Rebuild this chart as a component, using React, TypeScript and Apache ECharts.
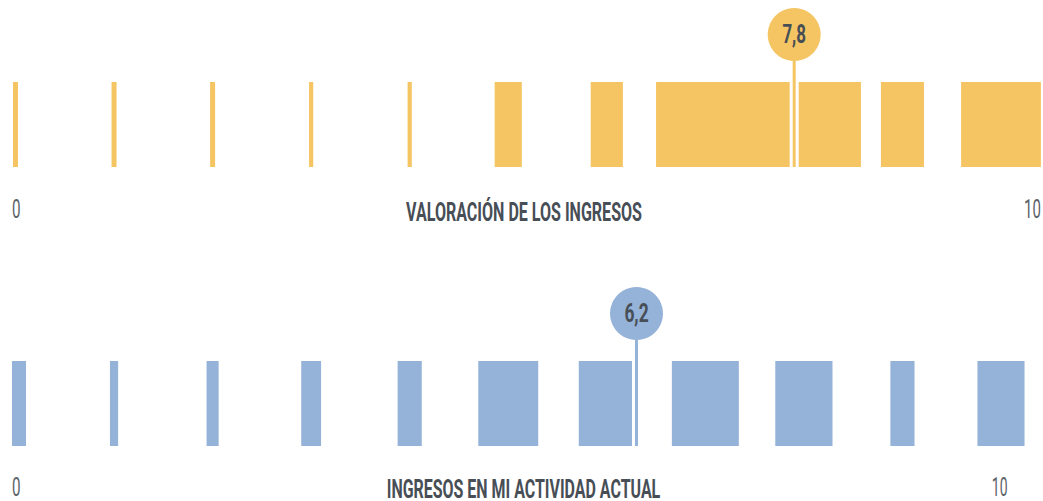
import React, { useEffect, useRef } from "react";
import * as echarts from "echarts";

// ---- data ----
const scores = [0, 1, 2, 3, 4, 5, 6, 7, 8, 9, 10];
// share of answers per score (%)
const valoracionPct = [1.2, 1.2, 1.2, 1.0, 1.0, 6.5, 7.7, 23.6, 27.3, 10.3, 19.1];
const actividadPct = [3.6, 2.1, 3.1, 5.1, 6.2, 15.4, 14.4, 17.2, 14.7, 6.2, 12.1];
const averages = [7.8, 6.2];
const titles = ["VALORACIÓN DE LOS INGRESOS", "INGRESOS EN MI ACTIVIDAD ACTUAL"];
const tickLabels = ["0", "10"];

// ---- styles ----
const YELLOW = "#F4C562";
const BLUE = "#95B2D9";
const DARK = "#474e56";
const GREY = "#5c6269";
const FONT = "Roboto, 'Open Sans', sans-serif";
// width (axis units) that a full 100% row would occupy
const rowScale = [4.24 / 100, 3.95 / 100];

function inkWidth(text: string, font: string): number {
  const c = document.createElement("canvas").getContext("2d");
  if (!c) return text.length * 10;
  c.font = font;
  const m = c.measureText(text);
  const w = (m.actualBoundingBoxLeft || 0) + (m.actualBoundingBoxRight || 0);
  return w > 0 ? w : m.width;
}

function fitText(text: string, weight: string, size: number, cx: number, cy: number, target: number, fill: string) {
  const font = `${weight} ${size}px ${FONT}`;
  const sx = target / inkWidth(text, `${weight} ${size}px Roboto`);
  return {
    type: "text",
    x: cx,
    y: cy,
    scaleX: sx,
    silent: true,
    style: {
      text,
      x: 0,
      y: 0,
      font,
      fill,
      align: "center",
      verticalAlign: "middle",
      textAlign: "center",
      textVerticalAlign: "middle",
    },
  };
}

function barSeries(idx: number, pct: number[], color: string) {
  return {
    type: "custom",
    xAxisIndex: idx,
    yAxisIndex: idx,
    clip: false,
    data: scores.map((s, i) => [s, pct[i]]),
    renderItem: (_p: any, api: any) => {
      const top = api.coord([api.value(0), 1]);
      const bot = api.coord([api.value(0), 0]);
      const w = api.size([api.value(1) * rowScale[idx], 0])[0];
      const x0 = Math.max(top[0] - w / 2, 12);
      return {
        type: "rect",
        shape: { x: x0, y: top[1], width: w, height: bot[1] - top[1] },
        style: { fill: color },
      };
    },
  };
}

function markerSeries(idx: number, value: number, color: string) {
  return {
    type: "custom",
    xAxisIndex: idx,
    yAxisIndex: idx,
    clip: false,
    z: 5,
    data: [[value, 1]],
    renderItem: (_p: any, api: any) => {
      const v = api.value(0);
      const top = api.coord([v, 1]);
      const bot = api.coord([v, 0]);
      const cx = top[0] + 10;
      const r = 26.5;
      const cy = top[1] - 47.5;
      const label = String(v).replace(".", ",");
      return {
        type: "group",
        children: [
          { type: "line", shape: { x1: cx, y1: cy + r, x2: cx, y2: bot[1] }, style: { stroke: "#ffffff", lineWidth: 9 } },
          { type: "line", shape: { x1: cx, y1: cy + r, x2: cx, y2: bot[1] }, style: { stroke: color, lineWidth: 3 } },
          { type: "circle", shape: { cx, cy, r }, style: { fill: color } },
          fitText(label, "bold", 26, cx, cy - 0.5, 23, DARK),
        ],
      };
    },
  };
}

export default function App() {
  const ref = useRef<HTMLDivElement>(null);
  useEffect(() => {
    if (!ref.current) return;
    const chart = echarts.init(ref.current, null, { renderer: "svg" });
    const option: any = {
      animation: false,
      backgroundColor: "#ffffff",
      grid: [
        { left: 15.5, right: 42, top: 82, height: 85 },
        { left: 15.5, right: 42, top: 361, height: 85 },
      ],
      xAxis: [
        { type: "value", gridIndex: 0, min: 0, max: 10, show: false },
        { type: "value", gridIndex: 1, min: 0, max: 10, show: false },
      ],
      yAxis: [
        { type: "value", gridIndex: 0, min: 0, max: 1, show: false },
        { type: "value", gridIndex: 1, min: 0, max: 1, show: false },
      ],
      series: [
        barSeries(0, valoracionPct, YELLOW),
        barSeries(1, actividadPct, BLUE),
        markerSeries(0, averages[0], YELLOW),
        markerSeries(1, averages[1], BLUE),
      ],
      graphic: [
        fitText(titles[0], "bold", 26, 524, 211.7, 236, DARK),
        fitText(titles[1], "bold", 26, 523.5, 488.8, 273, DARK),
        fitText(tickLabels[0], "normal", 25, 16.3, 210, 7.3, GREY),
        fitText(tickLabels[1], "normal", 25, 1032.5, 210, 15, GREY),
        fitText(tickLabels[0], "normal", 25, 16.3, 487.5, 7.3, GREY),
        fitText(tickLabels[1], "normal", 25, 999.7, 487.5, 14, GREY),
      ],
    };
    chart.setOption(option);
    return () => chart.dispose();
  }, []);
  return (
    <div
      ref={ref}
      style={{ position: "fixed", left: 0, top: 0, width: 1043, height: 501, background: "#fff" }}
    />
  );
}
